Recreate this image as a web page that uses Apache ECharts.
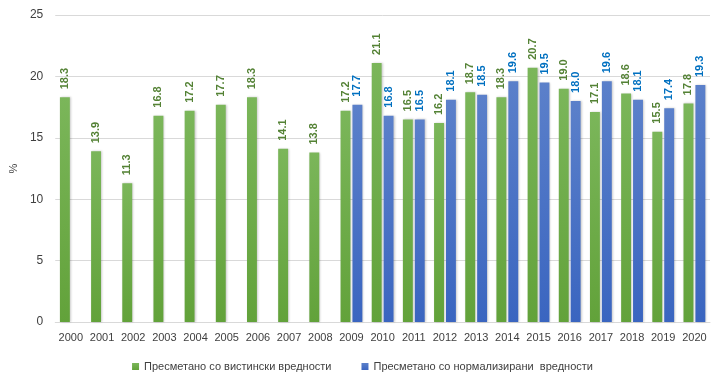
<!DOCTYPE html>
<html><head><meta charset="utf-8">
<script src="https://cdn.jsdelivr.net/npm/echarts@6/dist/echarts.min.js"></script>
<style>html,body{margin:0;padding:0;background:#fff}#c{width:725px;height:387px}</style>
</head><body><div id="c"></div>
<script>
var years = ['2000','2001','2002','2003','2004','2005','2006','2007','2008','2009','2010','2011','2012','2013','2014','2015','2016','2017','2018','2019','2020'];
var actualValues = [18.3,13.9,11.3,16.8,17.2,17.7,18.3,14.1,13.8,17.2,21.1,16.5,16.2,18.7,18.3,20.7,19.0,17.1,18.6,15.5,17.8];
var normalizedValues = [null,null,null,null,null,null,null,null,null,17.7,16.8,16.5,18.1,18.5,19.6,19.5,18.0,19.6,18.1,17.4,19.3];
var seriesNames = ['Пресметано со вистински вредности','Пресметано со нормализирани  вредности'];

var chart = echarts.init(document.getElementById('c'));
var font = 'Liberation Sans';
function lbl(color){
  return {show:true, position:'top', rotate:90, align:'left', verticalAlign:'middle', distance:8,
    color:color, fontWeight:'bold', fontSize:11, fontFamily:font,
    formatter:function(p){return p.value==null?'':Number(p.value).toFixed(1);}};
}
chart.setOption({
  animation:false,
  grid:{left:48,right:15,top:15,bottom:65},
  legend:{bottom:10,left:'center',itemWidth:7,itemHeight:7,itemGap:30,icon:'rect',
    textStyle:{fontFamily:font,fontSize:11,color:'#404040'}},
  xAxis:{type:'category',data:years,
    axisLine:{lineStyle:{color:'#d9d9d9'}},axisTick:{show:false},
    axisLabel:{interval:0,color:'#404040',fontFamily:font,fontSize:11,margin:10}},
  yAxis:{type:'value',min:0,max:25,interval:5,name:'%',nameLocation:'middle',nameGap:32,
    nameTextStyle:{color:'#404040',fontFamily:font,fontSize:11},
    axisLine:{show:false},axisTick:{show:false},
    axisLabel:{color:'#404040',fontFamily:font,fontSize:12,margin:12},
    splitLine:{lineStyle:{color:'#d9d9d9'}}},
  series:[
    {name:seriesNames[0],type:'bar',data:actualValues,barGap:'20%',barCategoryGap:'30%',
     itemStyle:{color:new echarts.graphic.LinearGradient(0,0,0,1,[{offset:0,color:'#7bb65a'},{offset:1,color:'#62a23a'}]),
       shadowColor:'rgba(0,0,0,0.2)',shadowBlur:2,shadowOffsetX:1},
     label:lbl('#548235')},
    {name:seriesNames[1],type:'bar',data:normalizedValues,
     itemStyle:{color:new echarts.graphic.LinearGradient(0,0,0,1,[{offset:0,color:'#5b80ca'},{offset:1,color:'#3a65c0'}]),
       shadowColor:'rgba(0,0,0,0.2)',shadowBlur:2,shadowOffsetX:1},
     label:lbl('#0070c0')}
  ]
});
</script></body></html>
